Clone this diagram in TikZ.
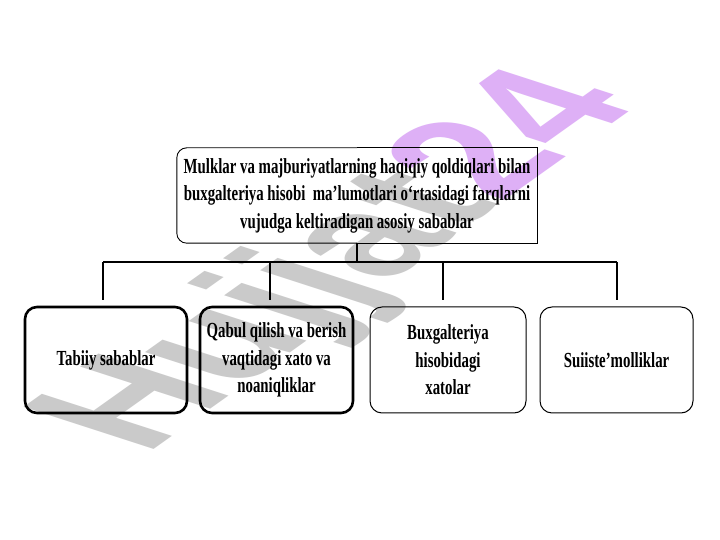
\documentclass[tikz,border=0pt]{standalone}
\usepackage{fontspec}
\setmainfont{Liberation Serif Bold}[FakeStretch=0.69]
\newfontfamily\wmfont{Liberation Sans}
\definecolor{wmgray}{RGB}{202,202,202}
\definecolor{wmviolet}{RGB}{222,176,246}
\begin{document}
\begin{tikzpicture}[x=1pt,y=1pt,
  txt/.style={align=center,inner sep=0pt,font=\fontsize{21.5}{27.5}\selectfont},
  topbox/.style={txt,minimum width=360pt,minimum height=95pt},
  leafthick/.style={txt,draw,line width=2.6pt,rounded corners=12pt,minimum height=106pt},
  leafthin/.style={txt,draw,line width=1pt,rounded corners=12pt,minimum height=106pt},
  thinline/.style={line width=0.9pt},
  conn/.style={line width=1.4pt},
  busline/.style={line width=2.3pt}]
\useasboundingbox (0,0) rectangle (720,540);
\fill[white] (0,0) rectangle (720,540);
% watermark
\begin{scope}[yscale=0.48,transform shape]
\node[rotate=56,inner sep=0pt,font=\wmfont\bfseries\fontsize{228}{228}\selectfont] (wm) at (345,576)
  {\textcolor{wmgray}{Hujjat}\textcolor{wmviolet}{24}};
\end{scope}
% top box
\node[topbox] (top) at (357,344.5) {Mulklar va majburiyatlarning haqiqiy qoldiqlari bilan\\
buxgalteriya hisobi\ \ ma’lumotlari o‘rtasidagi farqlarni\\
vujudga keltiradigan asosiy sabablar};
\draw[thinline,rounded corners=10pt] (top.north) -- (top.north west) -- (top.south west) -- (top.south);
\draw[thinline] (top.north) -- (top.north east) -- (top.south east) -- (top.south);
% leaves
\node[leafthick,minimum width=162pt] (b1) at (106,180) {Tabiiy sabablar};
\node[leafthick,minimum width=153pt] (b2) at (276.5,180) {Qabul qilish va berish\\vaqtidagi xato va\\noaniqliklar};
\node[leafthin,minimum width=156pt] (b3) at (448,180) {Buxgalteriya\\hisobidagi\\xatolar};
\node[leafthin,minimum width=153pt] (b4) at (616.5,180) {Suiiste’molliklar};
% connectors
\coordinate (bus) at ([yshift=-19pt]top.south);
\coordinate (d1) at ([xshift=-3pt,yshift=6pt]b1.north);
\coordinate (d2) at ([xshift=-6.5pt,yshift=6pt]b2.north);
\coordinate (d3) at ([xshift=-5pt,yshift=6pt]b3.north);
\coordinate (d4) at ([xshift=0.5pt,yshift=6pt]b4.north);
\draw[conn] (top.south) -- (bus);
\draw[busline] (d1 |- bus) -- (d4 |- bus);
\foreach \d in {d1,d2,d3,d4} \draw[conn] (\d |- bus) -- (\d);
\end{tikzpicture}
\end{document}
